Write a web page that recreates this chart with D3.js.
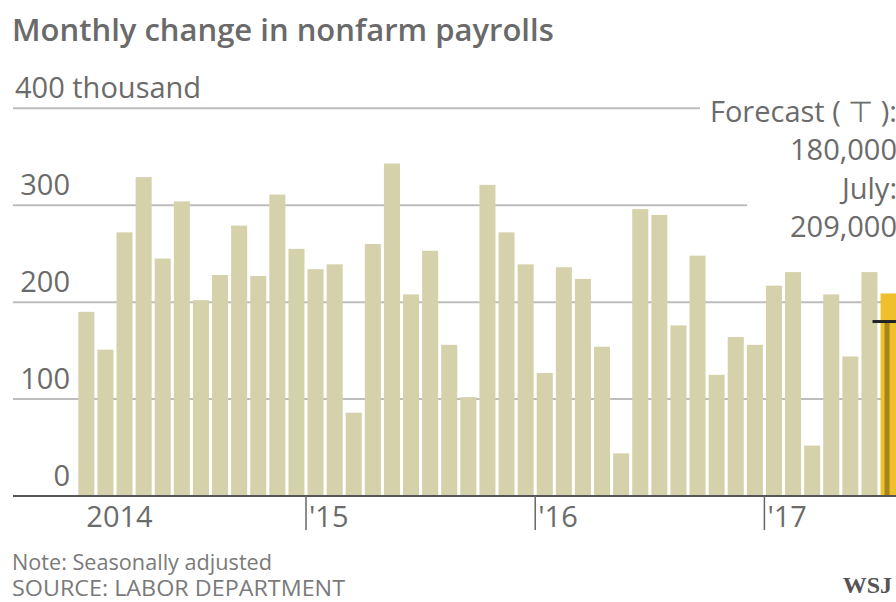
<!DOCTYPE html>
<html>
<head>
<meta charset="utf-8">
<script src="https://cdn.jsdelivr.net/npm/d3@7"></script>
<style>
  body { margin: 0; background: #fff; }
  svg { display: block; }
  text { font-family: "Open Sans", sans-serif; fill: #6b6b6b; }
</style>
</head>
<body>
<svg width="896" height="602"></svg>
<script>
// monthly categories, Jan 2014 .. Jul 2017
const months = d3.timeMonth.range(new Date(2014, 0, 1), new Date(2017, 7, 1));

// change in nonfarm payrolls, thousands
const payrolls = [
  190, 151, 272, 329, 245, 304, 202, 228, 279, 227, 311, 255,
  234, 239, 86, 260, 343, 208, 253, 156, 102, 321, 272, 239,
  127, 236, 224, 154, 44, 296, 290, 176, 248, 125, 164, 156,
  217, 231, 52, 208, 144, 231, 209
];
const forecast = 180;

const yTicks = [0, 100, 200, 300, 400];
const yTickLabels = ["0", "100", "200", "300", "400 thousand"];

const yearTicks = [new Date(2014, 0, 1), new Date(2015, 0, 1), new Date(2016, 0, 1), new Date(2017, 0, 1)];
const yearLabels = ["2014", "'15", "'16", "'17"];

const noteLines = ["Note: Seasonally adjusted", "SOURCE: LABOR DEPARTMENT"];
const calloutLines = ["Forecast ( \u22A4 ):", "180,000", "July:", "209,000"];

const width = 896;
const svg = d3.select("svg");

const x = d3.scaleBand()
  .domain(months)
  .range([76.8, 898.1])
  .paddingInner(0.16)
  .paddingOuter(0.08);

const y = d3.scaleLinear().domain([0, 400]).range([496, 108.3]);

// title
svg.append("text")
  .attr("x", 12)
  .attr("y", 41)
  .style("font-size", "31px")
  .style("font-weight", 600)
  .style("fill", "#6a6a6a")
  .text("Monthly change in nonfarm payrolls");

// gridlines (top two stop short of the callout)
const gridEnd = (d) => (d === 400 ? 700 : d === 300 ? 747 : width);
svg.append("g")
  .selectAll("line")
  .data(yTicks.filter((d) => d > 0))
  .join("line")
  .attr("x1", 13)
  .attr("x2", gridEnd)
  .attr("y1", (d) => y(d))
  .attr("y2", (d) => y(d))
  .attr("stroke", "#bdbdbd")
  .attr("stroke-width", 2);

// y labels
svg.append("g")
  .selectAll("text")
  .data(yTicks)
  .join("text")
  .attr("x", (d) => (d === 400 ? 15 : 70))
  .attr("y", (d) => y(d) - 10)
  .attr("text-anchor", (d) => (d === 400 ? "start" : "end"))
  .style("font-size", "29px")
  .text((d, i) => yTickLabels[i]);

// bars
const last = months.length - 1;
svg.append("g")
  .selectAll("rect")
  .data(payrolls)
  .join("rect")
  .attr("x", (d, i) => x(months[i]))
  .attr("y", (d) => y(d))
  .attr("width", x.bandwidth())
  .attr("height", (d) => y(0) - y(d))
  .attr("fill", (d, i) => (i === last ? "#f0c02c" : "#d4d1ab"));

// forecast marker on July bar
const cx = x(months[last]) + x.bandwidth() / 2 - 1.5;
svg.append("line")
  .attr("x1", cx)
  .attr("x2", cx)
  .attr("y1", y(forecast))
  .attr("y2", y(0))
  .attr("stroke", "#a6861c")
  .attr("stroke-width", 5);
svg.append("line")
  .attr("x1", x(months[last]) - 8)
  .attr("x2", width)
  .attr("y1", y(forecast))
  .attr("y2", y(forecast))
  .attr("stroke", "#222")
  .attr("stroke-width", 3);

// baseline
svg.append("line")
  .attr("x1", 13)
  .attr("x2", width)
  .attr("y1", y(0))
  .attr("y2", y(0))
  .attr("stroke", "#555")
  .attr("stroke-width", 2);

// year ticks
const gap = (x.step() - x.bandwidth()) / 2;
const yearG = svg.append("g");
yearG.selectAll("line")
  .data(yearTicks.slice(1))
  .join("line")
  .attr("x1", (d) => x(d) - gap)
  .attr("x2", (d) => x(d) - gap)
  .attr("y1", y(0))
  .attr("y2", 530)
  .attr("stroke", "#666")
  .attr("stroke-width", 1.5);
yearG.selectAll("text")
  .data(yearTicks)
  .join("text")
  .attr("x", (d, i) => (i === 0 ? x(d) + 8 : x(d) - gap + 3))
  .attr("y", 527)
  .style("font-size", "29px")
  .text((d, i) => yearLabels[i]);

// callout
svg.append("g")
  .selectAll("text")
  .data(calloutLines)
  .join("text")
  .attr("x", 897)
  .attr("y", (d, i) => 122 + i * 38.3)
  .attr("text-anchor", "end")
  .style("font-size", "29px")
  .text((d) => d);

// notes
svg.append("g")
  .selectAll("text")
  .data(noteLines)
  .join("text")
  .attr("x", 12)
  .attr("y", (d, i) => 570 + i * 26)
  .attr("textLength", (d, i) => (i === 0 ? 260 : 333))
  .attr("lengthAdjust", "spacingAndGlyphs")
  .style("font-size", "21px")
  .style("fill", "#7a7a7a")
  .text((d) => d);

svg.append("text")
  .attr("x", 892)
  .attr("y", 593)
  .attr("text-anchor", "end")
  .style("font-family", "'Liberation Serif', serif")
  .style("font-size", "24px")
  .style("font-weight", 700)
  .style("fill", "#555")
  .text("WSJ");
</script>
</body>
</html>
